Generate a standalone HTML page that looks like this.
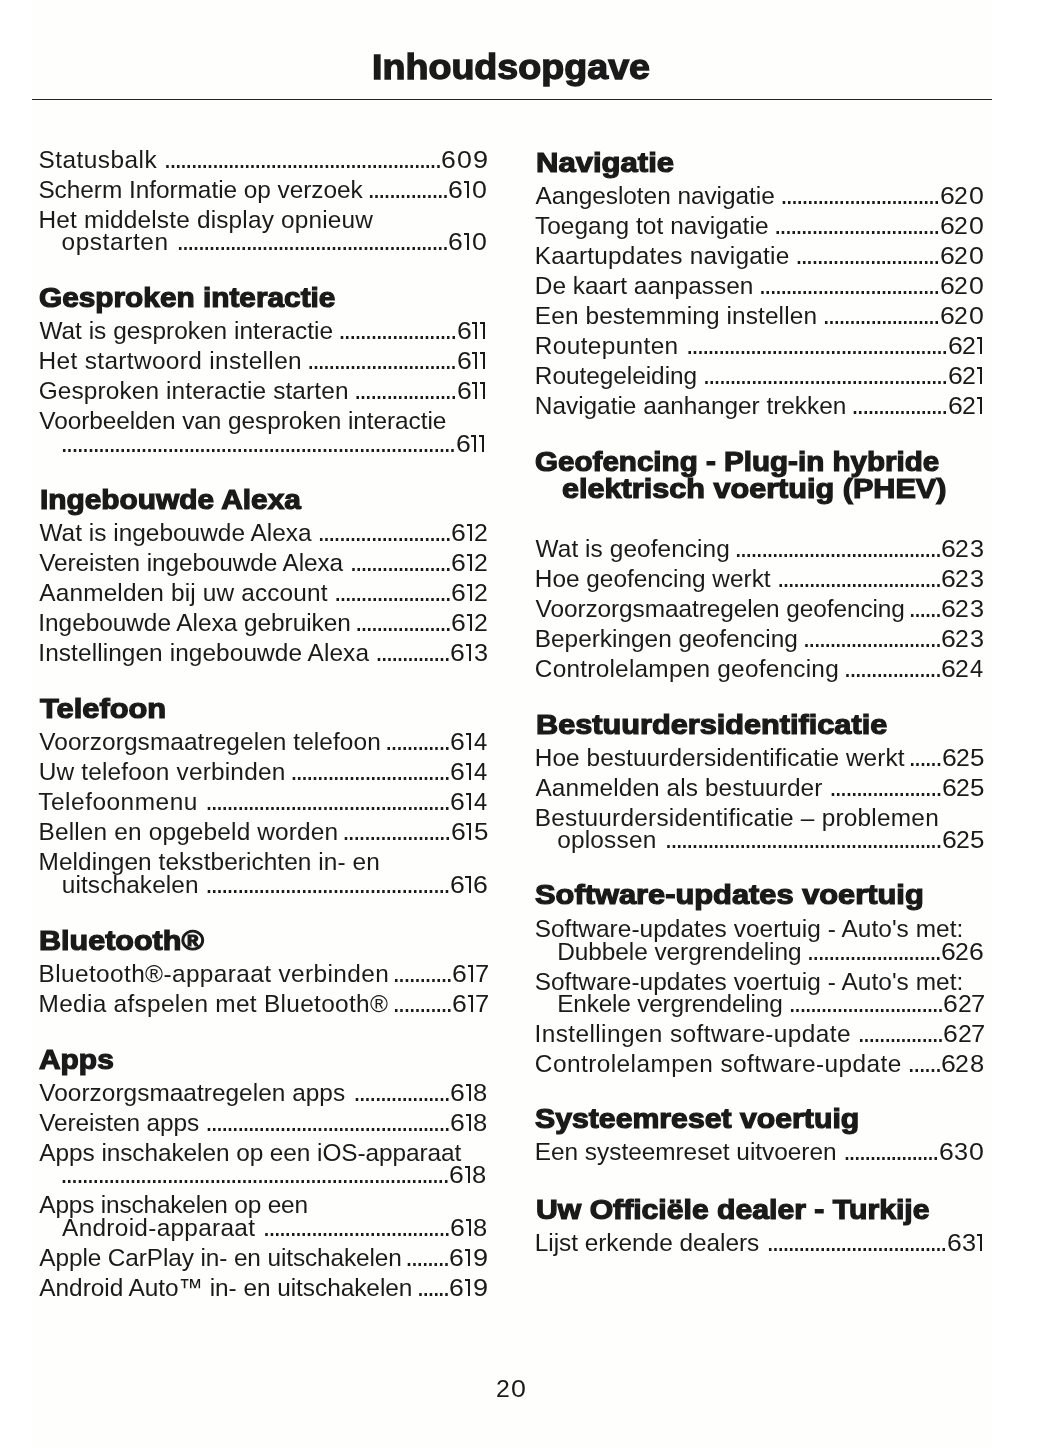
<!DOCTYPE html>
<html lang="nl"><head><meta charset="utf-8"><title>Inhoudsopgave</title><style>
*{margin:0;padding:0;box-sizing:border-box}
html,body{width:1055px;height:1448px;background:#fff;overflow:hidden}
body{position:relative;font-family:"Liberation Sans",sans-serif;color:#1a1a1a}
.pg{position:absolute;left:32px;top:0;width:960px;height:1448px;background:#fefefc}
.w{position:absolute;left:0;top:0;width:1055px;height:1448px;filter:grayscale(1)}
.title{position:absolute;white-space:nowrap;font-size:34.4px;line-height:40px;font-weight:bold;-webkit-text-stroke:1.3px #1a1a1a;transform-origin:0 0}
.rule{position:absolute;left:31.5px;width:960.8px;top:98.8px;height:1.6px;background:#232323}
.t,.d,.g,.pn{position:absolute;font-size:24.4px;line-height:22px;white-space:nowrap}
.d{font-size:26.8px}
.g{transform-origin:0 0}
.one{position:absolute;display:block;width:5.3px;height:16.7px}
.one:before{content:"";position:absolute;right:0;top:0;width:2.1px;height:16.7px;background:#1a1a1a}
.one:after{content:"";position:absolute;left:0;top:0;width:5.3px;height:1.7px;background:#1a1a1a}
.h{position:absolute;font-size:27.1px;line-height:27px;font-weight:bold;white-space:nowrap;-webkit-text-stroke:1.2px #1a1a1a;transform-origin:0 0}
</style></head><body>
<div class="pg"></div>
<div class="w">
<div class="title" id="title" style="left:372.39px;top:47.27px;transform:scaleX(1.0939)">Inhoudsopgave</div>
<div class="rule"></div>
<div class="t" id="t0" style="left:38.40px;top:149.04px;letter-spacing:0.482px">Statusbalk</div>
<span class="g" style="left:441.35px;top:149.04px;transform:scaleX(1.092)">6</span><span class="g" style="left:456.95px;top:149.04px;transform:scaleX(1.097)">0</span><span class="g" style="left:472.73px;top:149.04px;transform:scaleX(1.109)">9</span>
<div class="d" style="left:163.85px;top:148.21px;letter-spacing:-2.135px">....................................................</div>
<div class="t" id="t1" style="left:38.40px;top:179.04px;letter-spacing:-0.035px">Scherm Informatie op verzoek</div>
<span class="g" style="left:448.45px;top:179.04px;transform:scaleX(1.092)">6</span><i class="one" style="left:463.80px;top:181.30px"></i><span class="g" style="left:472.25px;top:179.04px;transform:scaleX(1.097)">0</span>
<div class="d" style="left:367.45px;top:178.21px;letter-spacing:-2.135px">...............</div>
<div class="t" id="t2" style="left:38.54px;top:209.04px;letter-spacing:0.176px">Het middelste display opnieuw</div>
<div class="t" id="t3" style="left:61.50px;top:231.04px;letter-spacing:0.599px">opstarten</div>
<span class="g" style="left:448.45px;top:231.04px;transform:scaleX(1.092)">6</span><i class="one" style="left:463.80px;top:233.30px"></i><span class="g" style="left:472.25px;top:231.04px;transform:scaleX(1.097)">0</span>
<div class="d" style="left:176.45px;top:230.21px;letter-spacing:-2.139px">...................................................</div>
<div class="h" id="h4" style="left:39.13px;top:283.80px;transform:scaleX(1.0997)">Gesproken interactie</div>
<div class="t" id="t5" style="left:39.40px;top:320.04px;letter-spacing:0.016px">Wat is gesproken interactie</div>
<span class="g" style="left:456.55px;top:320.04px;transform:scaleX(1.092)">6</span><i class="one" style="left:471.90px;top:322.30px"></i><i class="one" style="left:480.10px;top:322.30px"></i>
<div class="d" style="left:338.25px;top:319.21px;letter-spacing:-2.129px">......................</div>
<div class="t" id="t6" style="left:38.54px;top:350.04px;letter-spacing:0.358px">Het startwoord instellen</div>
<span class="g" style="left:456.55px;top:350.04px;transform:scaleX(1.092)">6</span><i class="one" style="left:471.90px;top:352.30px"></i><i class="one" style="left:480.10px;top:352.30px"></i>
<div class="d" style="left:306.95px;top:349.21px;letter-spacing:-2.152px">............................</div>
<div class="t" id="t7" style="left:38.63px;top:380.04px;letter-spacing:0.128px">Gesproken interactie starten</div>
<span class="g" style="left:456.55px;top:380.04px;transform:scaleX(1.092)">6</span><i class="one" style="left:471.90px;top:382.30px"></i><i class="one" style="left:480.10px;top:382.30px"></i>
<div class="d" style="left:353.95px;top:379.21px;letter-spacing:-2.115px">...................</div>
<div class="t" id="t8" style="left:39.30px;top:410.04px;letter-spacing:-0.071px">Voorbeelden van gesproken interactie</div>
<span class="g" style="left:455.55px;top:433.04px;transform:scaleX(1.092)">6</span><i class="one" style="left:470.90px;top:435.30px"></i><i class="one" style="left:479.10px;top:435.30px"></i>
<div class="d" style="left:60.55px;top:432.21px;letter-spacing:-2.126px">..........................................................................</div>
<div class="h" id="h9" style="left:39.86px;top:485.90px;transform:scaleX(1.1012)">Ingebouwde Alexa</div>
<div class="t" id="t10" style="left:39.40px;top:522.04px;letter-spacing:0.027px">Wat is ingebouwde Alexa</div>
<span class="g" style="left:451.25px;top:522.04px;transform:scaleX(1.092)">6</span><i class="one" style="left:466.60px;top:524.30px"></i><span class="g" style="left:473.55px;top:522.04px;transform:scaleX(1.017)">2</span>
<div class="d" style="left:317.45px;top:521.21px;letter-spacing:-2.148px">.........................</div>
<div class="t" id="t11" style="left:39.30px;top:552.04px;letter-spacing:-0.103px">Vereisten ingebouwde Alexa</div>
<span class="g" style="left:451.25px;top:552.04px;transform:scaleX(1.092)">6</span><i class="one" style="left:466.60px;top:554.30px"></i><span class="g" style="left:473.55px;top:552.04px;transform:scaleX(1.017)">2</span>
<div class="d" style="left:349.75px;top:551.21px;letter-spacing:-2.177px">...................</div>
<div class="t" id="t12" style="left:39.37px;top:582.04px;letter-spacing:0.147px">Aanmelden bij uw account</div>
<span class="g" style="left:451.25px;top:582.04px;transform:scaleX(1.092)">6</span><i class="one" style="left:466.60px;top:584.30px"></i><span class="g" style="left:473.55px;top:582.04px;transform:scaleX(1.017)">2</span>
<div class="d" style="left:334.05px;top:581.21px;letter-spacing:-2.182px">......................</div>
<div class="t" id="t13" style="left:38.32px;top:612.04px;letter-spacing:-0.029px">Ingebouwde Alexa gebruiken</div>
<span class="g" style="left:451.25px;top:612.04px;transform:scaleX(1.092)">6</span><i class="one" style="left:466.60px;top:614.30px"></i><span class="g" style="left:473.55px;top:612.04px;transform:scaleX(1.017)">2</span>
<div class="d" style="left:354.95px;top:611.21px;letter-spacing:-2.172px">..................</div>
<div class="t" id="t14" style="left:38.32px;top:642.04px;letter-spacing:0.088px">Instellingen ingebouwde Alexa</div>
<span class="g" style="left:450.15px;top:642.04px;transform:scaleX(1.092)">6</span><i class="one" style="left:465.50px;top:644.30px"></i><span class="g" style="left:473.54px;top:642.04px;transform:scaleX(1.037)">3</span>
<div class="d" style="left:375.15px;top:641.21px;letter-spacing:-2.188px">..............</div>
<div class="h" id="h15" style="left:39.60px;top:694.80px;transform:scaleX(1.1378)">Telefoon</div>
<div class="t" id="t16" style="left:39.30px;top:731.04px;letter-spacing:0.088px">Voorzorgsmaatregelen telefoon</div>
<span class="g" style="left:450.15px;top:731.04px;transform:scaleX(1.092)">6</span><i class="one" style="left:465.50px;top:733.30px"></i><span class="g" style="left:473.95px;top:731.04px;transform:scaleX(0.976)">4</span>
<div class="d" style="left:385.05px;top:730.21px;letter-spacing:-2.132px">............</div>
<div class="t" id="t17" style="left:38.64px;top:761.04px;letter-spacing:0.194px">Uw telefoon verbinden</div>
<span class="g" style="left:450.15px;top:761.04px;transform:scaleX(1.092)">6</span><i class="one" style="left:465.50px;top:763.30px"></i><span class="g" style="left:473.95px;top:761.04px;transform:scaleX(0.976)">4</span>
<div class="d" style="left:290.15px;top:760.21px;letter-spacing:-2.158px">..............................</div>
<div class="t" id="t18" style="left:38.30px;top:791.04px;letter-spacing:0.524px">Telefoonmenu</div>
<span class="g" style="left:450.15px;top:791.04px;transform:scaleX(1.092)">6</span><i class="one" style="left:465.50px;top:793.30px"></i><span class="g" style="left:473.95px;top:791.04px;transform:scaleX(0.976)">4</span>
<div class="d" style="left:205.15px;top:790.21px;letter-spacing:-2.149px">..............................................</div>
<div class="t" id="t19" style="left:38.54px;top:821.04px;letter-spacing:0.166px">Bellen en opgebeld worden</div>
<span class="g" style="left:450.65px;top:821.04px;transform:scaleX(1.092)">6</span><i class="one" style="left:466.00px;top:823.30px"></i><span class="g" style="left:473.96px;top:821.04px;transform:scaleX(1.063)">5</span>
<div class="d" style="left:342.25px;top:820.21px;letter-spacing:-2.091px">....................</div>
<div class="t" id="t20" style="left:38.54px;top:851.04px;letter-spacing:0.075px">Meldingen tekstberichten in- en</div>
<div class="t" id="t21" style="left:61.75px;top:874.04px;letter-spacing:0.116px">uitschakelen</div>
<span class="g" style="left:449.95px;top:874.04px;transform:scaleX(1.092)">6</span><i class="one" style="left:465.30px;top:876.30px"></i><span class="g" style="left:472.95px;top:874.04px;transform:scaleX(1.092)">6</span>
<div class="d" style="left:205.15px;top:873.21px;letter-spacing:-2.154px">..............................................</div>
<div class="h" id="h22" style="left:39.36px;top:926.90px;transform:scaleX(1.1265)">Bluetooth®</div>
<div class="t" id="t23" style="left:38.54px;top:963.04px;letter-spacing:0.388px">Bluetooth®-apparaat verbinden</div>
<span class="g" style="left:452.25px;top:963.04px;transform:scaleX(1.092)">6</span><i class="one" style="left:467.60px;top:965.30px"></i><span class="g" style="left:474.79px;top:963.04px;transform:scaleX(1.046)">7</span>
<div class="d" style="left:392.55px;top:962.21px;letter-spacing:-2.141px">...........</div>
<div class="t" id="t24" style="left:38.54px;top:993.04px;letter-spacing:0.309px">Media afspelen met Bluetooth®</div>
<span class="g" style="left:452.25px;top:993.04px;transform:scaleX(1.092)">6</span><i class="one" style="left:467.60px;top:995.30px"></i><span class="g" style="left:474.79px;top:993.04px;transform:scaleX(1.046)">7</span>
<div class="d" style="left:392.55px;top:992.21px;letter-spacing:-2.141px">...........</div>
<div class="h" id="h25" style="left:39.35px;top:1045.80px;transform:scaleX(1.1037)">Apps</div>
<div class="t" id="t26" style="left:39.30px;top:1082.04px;letter-spacing:0.032px">Voorzorgsmaatregelen apps</div>
<span class="g" style="left:450.15px;top:1082.04px;transform:scaleX(1.092)">6</span><i class="one" style="left:465.50px;top:1084.30px"></i><span class="g" style="left:473.39px;top:1082.04px;transform:scaleX(1.048)">8</span>
<div class="d" style="left:353.15px;top:1081.21px;letter-spacing:-2.131px">..................</div>
<div class="t" id="t27" style="left:39.30px;top:1112.04px;letter-spacing:-0.120px">Vereisten apps</div>
<span class="g" style="left:450.15px;top:1112.04px;transform:scaleX(1.092)">6</span><i class="one" style="left:465.50px;top:1114.30px"></i><span class="g" style="left:473.39px;top:1112.04px;transform:scaleX(1.048)">8</span>
<div class="d" style="left:205.15px;top:1111.21px;letter-spacing:-2.149px">..............................................</div>
<div class="t" id="t28" style="left:39.37px;top:1142.04px;letter-spacing:-0.068px">Apps inschakelen op een iOS-apparaat</div>
<span class="g" style="left:449.15px;top:1164.04px;transform:scaleX(1.092)">6</span><i class="one" style="left:464.50px;top:1166.30px"></i><span class="g" style="left:472.39px;top:1164.04px;transform:scaleX(1.048)">8</span>
<div class="d" style="left:60.25px;top:1163.21px;letter-spacing:-2.137px">.........................................................................</div>
<div class="t" id="t29" style="left:39.37px;top:1194.04px;letter-spacing:-0.179px">Apps inschakelen op een</div>
<div class="t" id="t30" style="left:62.07px;top:1217.04px;letter-spacing:0.297px">Android-apparaat</div>
<span class="g" style="left:450.15px;top:1217.04px;transform:scaleX(1.092)">6</span><i class="one" style="left:465.50px;top:1219.30px"></i><span class="g" style="left:473.39px;top:1217.04px;transform:scaleX(1.048)">8</span>
<div class="d" style="left:262.85px;top:1216.21px;letter-spacing:-2.133px">...................................</div>
<div class="t" id="t31" style="left:39.37px;top:1247.04px;letter-spacing:-0.113px">Apple CarPlay in- en uitschakelen</div>
<span class="g" style="left:449.45px;top:1247.04px;transform:scaleX(1.092)">6</span><i class="one" style="left:464.80px;top:1249.30px"></i><span class="g" style="left:472.73px;top:1247.04px;transform:scaleX(1.109)">9</span>
<div class="d" style="left:405.35px;top:1246.21px;letter-spacing:-2.096px">........</div>
<div class="t" id="t32" style="left:39.37px;top:1277.04px;letter-spacing:-0.038px">Android Auto™ in- en uitschakelen</div>
<span class="g" style="left:449.45px;top:1277.04px;transform:scaleX(1.092)">6</span><i class="one" style="left:464.80px;top:1279.30px"></i><span class="g" style="left:472.73px;top:1277.04px;transform:scaleX(1.109)">9</span>
<div class="d" style="left:416.85px;top:1276.21px;letter-spacing:-2.256px">......</div>
<div class="h" id="h33" style="left:535.53px;top:149.00px;transform:scaleX(1.1459)">Navigatie</div>
<div class="t" id="t34" style="left:535.48px;top:185.04px;letter-spacing:-0.039px">Aangesloten navigatie</div>
<span class="g" style="left:939.65px;top:185.04px;transform:scaleX(1.092)">6</span><span class="g" style="left:953.75px;top:185.04px;transform:scaleX(1.017)">2</span><span class="g" style="left:968.75px;top:185.04px;transform:scaleX(1.097)">0</span>
<div class="d" style="left:780.15px;top:184.21px;letter-spacing:-2.175px">..............................</div>
<div class="t" id="t35" style="left:534.88px;top:215.04px;letter-spacing:0.088px">Toegang tot navigatie</div>
<span class="g" style="left:939.65px;top:215.04px;transform:scaleX(1.092)">6</span><span class="g" style="left:953.75px;top:215.04px;transform:scaleX(1.017)">2</span><span class="g" style="left:968.75px;top:215.04px;transform:scaleX(1.097)">0</span>
<div class="d" style="left:774.05px;top:214.21px;letter-spacing:-2.148px">...............................</div>
<div class="t" id="t36" style="left:534.80px;top:245.04px;letter-spacing:0.235px">Kaartupdates navigatie</div>
<span class="g" style="left:939.65px;top:245.04px;transform:scaleX(1.092)">6</span><span class="g" style="left:953.75px;top:245.04px;transform:scaleX(1.017)">2</span><span class="g" style="left:968.75px;top:245.04px;transform:scaleX(1.097)">0</span>
<div class="d" style="left:795.25px;top:244.21px;letter-spacing:-2.148px">...........................</div>
<div class="t" id="t37" style="left:534.80px;top:275.04px;letter-spacing:0.012px">De kaart aanpassen</div>
<span class="g" style="left:939.65px;top:275.04px;transform:scaleX(1.092)">6</span><span class="g" style="left:953.75px;top:275.04px;transform:scaleX(1.017)">2</span><span class="g" style="left:968.75px;top:275.04px;transform:scaleX(1.097)">0</span>
<div class="d" style="left:758.85px;top:274.21px;letter-spacing:-2.169px">..................................</div>
<div class="t" id="t38" style="left:534.80px;top:305.04px;letter-spacing:0.125px">Een bestemming instellen</div>
<span class="g" style="left:939.65px;top:305.04px;transform:scaleX(1.092)">6</span><span class="g" style="left:953.75px;top:305.04px;transform:scaleX(1.017)">2</span><span class="g" style="left:968.75px;top:305.04px;transform:scaleX(1.097)">0</span>
<div class="d" style="left:822.55px;top:304.21px;letter-spacing:-2.186px">......................</div>
<div class="t" id="t39" style="left:534.80px;top:335.04px;letter-spacing:0.365px">Routepunten</div>
<span class="g" style="left:947.75px;top:335.04px;transform:scaleX(1.092)">6</span><span class="g" style="left:961.85px;top:335.04px;transform:scaleX(1.017)">2</span><i class="one" style="left:976.60px;top:337.30px"></i>
<div class="d" style="left:686.05px;top:334.21px;letter-spacing:-2.132px">.................................................</div>
<div class="t" id="t40" style="left:534.80px;top:365.04px;letter-spacing:-0.029px">Routegeleiding</div>
<span class="g" style="left:947.75px;top:365.04px;transform:scaleX(1.092)">6</span><span class="g" style="left:961.85px;top:365.04px;transform:scaleX(1.017)">2</span><i class="one" style="left:976.60px;top:367.30px"></i>
<div class="d" style="left:702.75px;top:364.21px;letter-spacing:-2.149px">..............................................</div>
<div class="t" id="t41" style="left:534.80px;top:395.04px;letter-spacing:-0.013px">Navigatie aanhanger trekken</div>
<span class="g" style="left:947.75px;top:395.04px;transform:scaleX(1.092)">6</span><span class="g" style="left:961.85px;top:395.04px;transform:scaleX(1.017)">2</span><i class="one" style="left:976.60px;top:397.30px"></i>
<div class="d" style="left:851.35px;top:394.21px;letter-spacing:-2.167px">..................</div>
<div class="h" id="h42" style="left:534.80px;top:447.90px;transform:scaleX(1.0918)">Geofencing - Plug-in hybride</div>
<div class="h" id="h43" style="left:561.92px;top:474.60px;transform:scaleX(1.1299)">elektrisch voertuig (PHEV)</div>
<div class="t" id="t44" style="left:535.57px;top:538.04px;letter-spacing:0.079px">Wat is geofencing</div>
<span class="g" style="left:941.35px;top:538.04px;transform:scaleX(1.092)">6</span><span class="g" style="left:955.45px;top:538.04px;transform:scaleX(1.017)">2</span><span class="g" style="left:970.04px;top:538.04px;transform:scaleX(1.037)">3</span>
<div class="d" style="left:734.55px;top:537.21px;letter-spacing:-2.179px">.......................................</div>
<div class="t" id="t45" style="left:534.80px;top:568.04px;letter-spacing:-0.005px">Hoe geofencing werkt</div>
<span class="g" style="left:941.35px;top:568.04px;transform:scaleX(1.092)">6</span><span class="g" style="left:955.45px;top:568.04px;transform:scaleX(1.017)">2</span><span class="g" style="left:970.04px;top:568.04px;transform:scaleX(1.037)">3</span>
<div class="d" style="left:777.05px;top:567.21px;letter-spacing:-2.191px">...............................</div>
<div class="t" id="t46" style="left:535.57px;top:598.04px;letter-spacing:-0.073px">Voorzorgsmaatregelen geofencing</div>
<span class="g" style="left:941.35px;top:598.04px;transform:scaleX(1.092)">6</span><span class="g" style="left:955.45px;top:598.04px;transform:scaleX(1.017)">2</span><span class="g" style="left:970.04px;top:598.04px;transform:scaleX(1.037)">3</span>
<div class="d" style="left:908.45px;top:597.21px;letter-spacing:-2.196px">......</div>
<div class="t" id="t47" style="left:534.80px;top:628.04px;letter-spacing:-0.006px">Beperkingen geofencing</div>
<span class="g" style="left:941.35px;top:628.04px;transform:scaleX(1.092)">6</span><span class="g" style="left:955.45px;top:628.04px;transform:scaleX(1.017)">2</span><span class="g" style="left:970.04px;top:628.04px;transform:scaleX(1.037)">3</span>
<div class="d" style="left:802.85px;top:627.21px;letter-spacing:-2.172px">..........................</div>
<div class="t" id="t48" style="left:534.87px;top:658.04px;letter-spacing:0.232px">Controlelampen geofencing</div>
<span class="g" style="left:941.35px;top:658.04px;transform:scaleX(1.092)">6</span><span class="g" style="left:955.45px;top:658.04px;transform:scaleX(1.017)">2</span><span class="g" style="left:970.45px;top:658.04px;transform:scaleX(0.976)">4</span>
<div class="d" style="left:843.85px;top:657.21px;letter-spacing:-2.102px">..................</div>
<div class="h" id="h49" style="left:535.71px;top:710.50px;transform:scaleX(1.1324)">Bestuurdersidentificatie</div>
<div class="t" id="t50" style="left:534.80px;top:747.04px;letter-spacing:0.068px">Hoe bestuurdersidentificatie werkt</div>
<span class="g" style="left:941.85px;top:747.04px;transform:scaleX(1.092)">6</span><span class="g" style="left:955.95px;top:747.04px;transform:scaleX(1.017)">2</span><span class="g" style="left:970.46px;top:747.04px;transform:scaleX(1.063)">5</span>
<div class="d" style="left:908.45px;top:746.21px;letter-spacing:-2.096px">......</div>
<div class="t" id="t51" style="left:535.48px;top:777.04px;letter-spacing:0.095px">Aanmelden als bestuurder</div>
<span class="g" style="left:941.85px;top:777.04px;transform:scaleX(1.092)">6</span><span class="g" style="left:955.95px;top:777.04px;transform:scaleX(1.017)">2</span><span class="g" style="left:970.46px;top:777.04px;transform:scaleX(1.063)">5</span>
<div class="d" style="left:829.25px;top:776.21px;letter-spacing:-2.148px">.....................</div>
<div class="t" id="t52" style="left:534.80px;top:807.04px;letter-spacing:0.229px">Bestuurdersidentificatie – problemen</div>
<div class="t" id="t53" style="left:557.18px;top:829.04px;letter-spacing:0.209px">oplossen</div>
<span class="g" style="left:941.85px;top:829.04px;transform:scaleX(1.092)">6</span><span class="g" style="left:955.95px;top:829.04px;transform:scaleX(1.017)">2</span><span class="g" style="left:970.46px;top:829.04px;transform:scaleX(1.063)">5</span>
<div class="d" style="left:664.85px;top:828.21px;letter-spacing:-2.145px">....................................................</div>
<div class="h" id="h54" style="left:534.58px;top:880.90px;transform:scaleX(1.1375)">Software-updates voertuig</div>
<div class="t" id="t55" style="left:534.67px;top:918.04px;letter-spacing:0.063px">Software-updates voertuig - Auto&#x27;s met:</div>
<div class="t" id="t56" style="left:557.22px;top:941.04px;letter-spacing:-0.055px">Dubbele vergrendeling</div>
<span class="g" style="left:941.15px;top:941.04px;transform:scaleX(1.092)">6</span><span class="g" style="left:955.25px;top:941.04px;transform:scaleX(1.017)">2</span><span class="g" style="left:969.45px;top:941.04px;transform:scaleX(1.092)">6</span>
<div class="d" style="left:806.75px;top:940.21px;letter-spacing:-2.123px">.........................</div>
<div class="t" id="t57" style="left:534.67px;top:971.04px;letter-spacing:0.063px">Software-updates voertuig - Auto&#x27;s met:</div>
<div class="t" id="t58" style="left:557.22px;top:993.04px;letter-spacing:-0.191px">Enkele vergrendeling</div>
<span class="g" style="left:943.45px;top:993.04px;transform:scaleX(1.092)">6</span><span class="g" style="left:957.55px;top:993.04px;transform:scaleX(1.017)">2</span><span class="g" style="left:971.29px;top:993.04px;transform:scaleX(1.046)">7</span>
<div class="d" style="left:788.55px;top:992.21px;letter-spacing:-2.151px">.............................</div>
<div class="t" id="t59" style="left:534.58px;top:1023.04px;letter-spacing:0.401px">Instellingen software-update</div>
<span class="g" style="left:943.45px;top:1023.04px;transform:scaleX(1.092)">6</span><span class="g" style="left:957.55px;top:1023.04px;transform:scaleX(1.017)">2</span><span class="g" style="left:971.29px;top:1023.04px;transform:scaleX(1.046)">7</span>
<div class="d" style="left:857.45px;top:1022.21px;letter-spacing:-2.156px">................</div>
<div class="t" id="t60" style="left:534.87px;top:1053.04px;letter-spacing:0.437px">Controlelampen software-update</div>
<span class="g" style="left:941.35px;top:1053.04px;transform:scaleX(1.092)">6</span><span class="g" style="left:955.45px;top:1053.04px;transform:scaleX(1.017)">2</span><span class="g" style="left:969.89px;top:1053.04px;transform:scaleX(1.048)">8</span>
<div class="d" style="left:907.55px;top:1052.21px;letter-spacing:-2.016px">......</div>
<div class="h" id="h61" style="left:534.71px;top:1105.10px;transform:scaleX(1.1157)">Systeemreset voertuig</div>
<div class="t" id="t62" style="left:534.80px;top:1141.04px;letter-spacing:-0.025px">Een systeemreset uitvoeren</div>
<span class="g" style="left:938.55px;top:1141.04px;transform:scaleX(1.092)">6</span><span class="g" style="left:953.74px;top:1141.04px;transform:scaleX(1.037)">3</span><span class="g" style="left:968.75px;top:1141.04px;transform:scaleX(1.097)">0</span>
<div class="d" style="left:843.15px;top:1140.21px;letter-spacing:-2.225px">..................</div>
<div class="h" id="h63" style="left:535.58px;top:1196.00px;transform:scaleX(1.1136)">Uw Officiële dealer - Turkije</div>
<div class="t" id="t64" style="left:534.80px;top:1232.04px;letter-spacing:-0.033px">Lijst erkende dealers</div>
<span class="g" style="left:946.65px;top:1232.04px;transform:scaleX(1.092)">6</span><span class="g" style="left:961.84px;top:1232.04px;transform:scaleX(1.037)">3</span><i class="one" style="left:976.60px;top:1234.30px"></i>
<div class="d" style="left:766.45px;top:1231.21px;letter-spacing:-2.187px">..................................</div>
<span class="g" style="left:495.75px;top:1378.04px;transform:scaleX(1.017)">2</span><span class="g" style="left:510.75px;top:1378.04px;transform:scaleX(1.097)">0</span>
</div>
</body></html>
